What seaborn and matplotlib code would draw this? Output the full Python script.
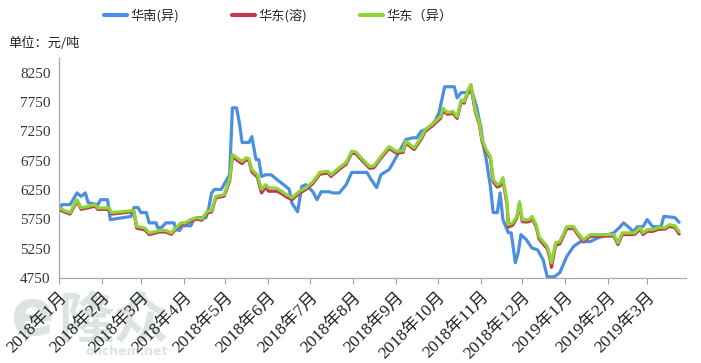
import matplotlib
matplotlib.use("Agg")
import matplotlib.pyplot as plt
import matplotlib.dates as mdates
from matplotlib.lines import Line2D
from matplotlib.ticker import FuncFormatter, FixedLocator
import seaborn as sns
import pandas as pd
import numpy as np

# ---------------- data ----------------
south_dates = ["2018-01-01","2018-01-03","2018-01-09","2018-01-14","2018-01-17","2018-01-20","2018-01-22","2018-01-29",
    "2018-01-31","2018-02-05","2018-02-07","2018-02-22","2018-02-24","2018-02-27","2018-03-01","2018-03-05","2018-03-07",
    "2018-03-12","2018-03-13","2018-03-16","2018-03-19","2018-03-25","2018-03-26","2018-03-29","2018-03-31","2018-04-06",
    "2018-04-08","2018-04-12","2018-04-17","2018-04-19","2018-04-21","2018-04-23","2018-04-28","2018-05-04","2018-05-06",
    "2018-05-09","2018-05-11","2018-05-13","2018-05-18","2018-05-20","2018-05-23","2018-05-25","2018-05-27","2018-05-30",
    "2018-06-03","2018-06-07","2018-06-12","2018-06-16","2018-06-18","2018-06-22","2018-06-25","2018-06-28","2018-07-03",
    "2018-07-06","2018-07-09","2018-07-15","2018-07-17","2018-07-22","2018-07-27","2018-07-31","2018-08-11","2018-08-14",
    "2018-08-18","2018-08-21","2018-08-27","2018-08-29","2018-09-03","2018-09-08","2018-09-13","2018-09-16","2018-09-19",
    "2018-09-25","2018-09-29","2018-10-02","2018-10-06","2018-10-13","2018-10-15","2018-10-18","2018-10-26","2018-10-29",
    "2018-11-01","2018-11-03","2018-11-05","2018-11-08","2018-11-10","2018-11-13","2018-11-15","2018-11-17","2018-11-21",
    "2018-11-23","2018-11-26","2018-11-28","2018-11-30","2018-12-04","2018-12-08","2018-12-12","2018-12-16","2018-12-19",
    "2018-12-24","2018-12-28","2019-01-02","2019-01-07","2019-01-12","2019-01-19","2019-01-24","2019-02-05","2019-02-09",
    "2019-02-12","2019-02-16","2019-02-19","2019-02-22","2019-02-26","2019-03-01","2019-03-05","2019-03-11","2019-03-13",
    "2019-03-21","2019-03-24"]
south_vals = [5890,6000,6000,6200,6140,6200,6035,6000,
    6085,6085,5745,5800,5950,5950,5865,5865,5690,
    5690,5610,5610,5690,5690,5575,5560,5640,5640,
    5745,5780,5780,5950,6200,6260,6260,6510,7650,
    7650,7400,7060,7060,7160,6770,6770,6480,6510,
    6510,6430,6340,6260,6020,5880,6310,6340,6220,
    6085,6220,6220,6200,6200,6340,6550,6550,6430,
    6290,6510,6600,6680,6890,7110,7140,7140,7250,
    7310,7420,7570,8010,8010,7820,7910,7910,7670,
    7330,6990,6770,6310,5865,5865,6200,5745,5520,
    5520,5010,5180,5490,5400,5260,5230,5060,4770,
    4770,4840,5115,5290,5370,5370,5430,5520,5610,
    5690,5610,5540,5625,5625,5745,5625,5625,5800,
    5780,5700]

east_dates = ["2018-01-01","2018-01-05","2018-01-09","2018-01-14","2018-01-17","2018-01-27","2018-01-29","2018-02-06",
    "2018-02-08","2018-02-24","2018-02-26","2018-03-04","2018-03-07","2018-03-12","2018-03-14","2018-03-19","2018-03-23",
    "2018-03-26","2018-03-30","2018-04-02","2018-04-06","2018-04-10","2018-04-14","2018-04-18","2018-04-21","2018-04-24",
    "2018-04-30","2018-05-04","2018-05-06","2018-05-11","2018-05-13","2018-05-16","2018-05-18","2018-05-20","2018-05-24",
    "2018-05-27","2018-05-30","2018-06-01","2018-06-07","2018-06-11","2018-06-14","2018-06-18","2018-06-23","2018-06-28",
    "2018-07-03","2018-07-08","2018-07-14","2018-07-16","2018-07-22","2018-07-27","2018-07-31","2018-08-03","2018-08-08",
    "2018-08-13","2018-08-16","2018-08-21","2018-08-27","2018-09-01","2018-09-06","2018-09-08","2018-09-14","2018-09-19",
    "2018-09-22","2018-09-27","2018-10-03","2018-10-05","2018-10-08","2018-10-12","2018-10-15","2018-10-18","2018-10-20",
    "2018-10-23","2018-10-25","2018-10-28","2018-10-31","2018-11-02","2018-11-05","2018-11-08","2018-11-10","2018-11-13",
    "2018-11-15","2018-11-17","2018-11-20","2018-11-21","2018-11-24","2018-11-27","2018-11-29","2018-12-01","2018-12-04",
    "2018-12-06","2018-12-08","2018-12-11","2018-12-13","2018-12-16","2018-12-19","2018-12-21","2018-12-22","2018-12-25",
    "2018-12-28","2019-01-02","2019-01-07","2019-01-10","2019-01-14","2019-01-19","2019-01-26","2019-02-05","2019-02-08",
    "2019-02-11","2019-02-17","2019-02-20","2019-02-24","2019-02-26","2019-03-01","2019-03-05","2019-03-09","2019-03-14",
    "2019-03-17","2019-03-21","2019-03-24"]
east_iso_vals = [5945,5900,5865,6085,5945,6000,5945,5945,
    5865,5900,5630,5600,5520,5545,5560,5560,5520,
    5600,5690,5690,5745,5780,5760,5887,5900,6140,
    6170,6430,6855,6770,6740,6800,6780,6600,6510,
    6260,6340,6290,6280,6220,6170,6120,6220,6290,
    6390,6550,6570,6510,6630,6720,6910,6900,6770,
    6650,6660,6820,6990,6910,6920,7080,6970,7140,
    7280,7370,7500,7640,7570,7590,7500,7790,7760,
    7960,8050,7620,7400,7110,6940,6820,6430,6340,
    6360,6460,6035,5660,5690,5800,6050,5745,5740,
    5745,5800,5660,5460,5370,5290,5115,5010,5350,
    5370,5625,5625,5520,5400,5490,5490,5490,5350,
    5520,5520,5520,5610,5520,5575,5575,5610,5610,
    5660,5640,5540]
east_sol_vals = [5915,5875,5840,6060,5920,5975,5920,5920,
    5840,5880,5600,5570,5490,5520,5535,5535,5495,
    5580,5665,5670,5720,5755,5735,5860,5875,6115,
    6145,6400,6820,6730,6700,6770,6745,6560,6470,
    6200,6300,6230,6230,6180,6130,6085,6190,6260,
    6360,6520,6540,6480,6600,6690,6880,6870,6740,
    6620,6630,6790,6960,6880,6890,7050,6940,7110,
    7250,7340,7470,7600,7540,7560,7470,7760,7730,
    7930,8020,7590,7370,7080,6910,6790,6390,6300,
    6320,6420,6000,5620,5650,5770,6010,5710,5705,
    5710,5765,5625,5420,5330,5250,5075,4930,5310,
    5330,5590,5595,5490,5370,5460,5465,5465,5320,
    5490,5490,5495,5580,5490,5545,5545,5580,5585,
    5630,5610,5500]

series_names = ["华南(异)", "华东(溶)", "华东（异)"]
legend_labels = ["华南(异)", "华东(溶)", "华东（异）"]
colors = ["#4a8fe0", "#c0394f", "#8fd336"]
month_ticks = pd.date_range("2018-01-01", "2019-03-01", freq="MS")
y_ticks = [4750, 5250, 5750, 6250, 6750, 7250, 7750, 8250]

# ---------------- frame ----------------
frames = [
    pd.DataFrame({"date": pd.to_datetime(south_dates), "value": south_vals, "series": series_names[0]}),
    pd.DataFrame({"date": pd.to_datetime(east_dates), "value": east_sol_vals, "series": series_names[1]}),
    pd.DataFrame({"date": pd.to_datetime(east_dates), "value": east_iso_vals, "series": series_names[2]}),
]
df = pd.concat(frames, ignore_index=True)

sns.set_theme(style="white")
plt.rcParams["font.family"] = ["Liberation Serif", "Noto Sans CJK SC", "DejaVu Sans"]

fig = plt.figure(figsize=(7.01, 3.63), dpi=100)

# watermark (behind everything)
wm_color = "#dce3e3"
fig.text(10/701, (363 - 348)/363, "e", fontsize=46, color=wm_color, fontweight="bold",
         family=["DejaVu Sans"], zorder=-5, va="bottom")
fig.text(58/701, (363 - 350)/363, "隆众", fontsize=40, color=wm_color, fontweight="bold",
         family=["Noto Sans CJK SC"], zorder=-5, va="bottom")
fig.text(85/701, (363 - 358)/363, "oilchem.net", fontsize=9, color=wm_color, fontweight="bold",
         family=["DejaVu Sans"], zorder=-5, va="bottom")

ax = fig.add_axes([59/701, 85/363, 627/701, 220/363])
ax.patch.set_alpha(0)
ax.set_zorder(2)

sns.lineplot(data=df, x="date", y="value", hue="series", hue_order=series_names,
             palette=colors, linewidth=2.3, estimator=None, legend=False, ax=ax)

ax.set_xlim(pd.Timestamp("2018-01-01"), pd.Timestamp("2019-03-29"))
ax.set_ylim(4750, 8500)
ax.yaxis.set_major_locator(FixedLocator(y_ticks))
ax.set_xticks(mdates.date2num(month_ticks))
ax.xaxis.set_major_formatter(FuncFormatter(lambda v, p: "{}年{}月".format(mdates.num2date(v).year, mdates.num2date(v).month)))
for lab in ax.get_xticklabels():
    lab.set_rotation(45)
    lab.set_ha("right")
    lab.set_va("top")
    lab.set_rotation_mode("anchor")
    lab.set_fontfamily(["Liberation Serif", "Noto Sans CJK SC"])
    lab.set_fontsize(12.5)
    lab.set_color("#222222")
for lab in ax.get_yticklabels():
    lab.set_fontsize(11)
    lab.set_fontfamily(["Liberation Serif"])
    lab.set_color("#333333")
ax.tick_params(axis="x", which="major", length=4, width=0.8, color="#a0a0a0", pad=4, direction="out", bottom=True)
ax.tick_params(axis="y", length=0, pad=6)
ax.set_xlabel("")
ax.set_ylabel("")
for s in ["top", "right"]:
    ax.spines[s].set_visible(False)
for s in ["left", "bottom"]:
    ax.spines[s].set_color("#a8a8a8")
    ax.spines[s].set_linewidth(0.9)

handles = [Line2D([0], [0], color=c, lw=3) for c in colors]
fig.legend(handles, legend_labels, loc="center", bbox_to_anchor=(278/701, 1 - 16/363), ncol=3,
           frameon=False, handlelength=1.75, handletextpad=0.25, columnspacing=4.0,
           prop={"family": ["Noto Sans CJK SC"], "size": 9.5})
fig.text(8/701, 1 - 43/363, "单位：元/吨", fontsize=9.5, va="center", ha="left", color="#222222",
         family=["Noto Sans CJK SC"])

fig.savefig("out.png", dpi=100)
